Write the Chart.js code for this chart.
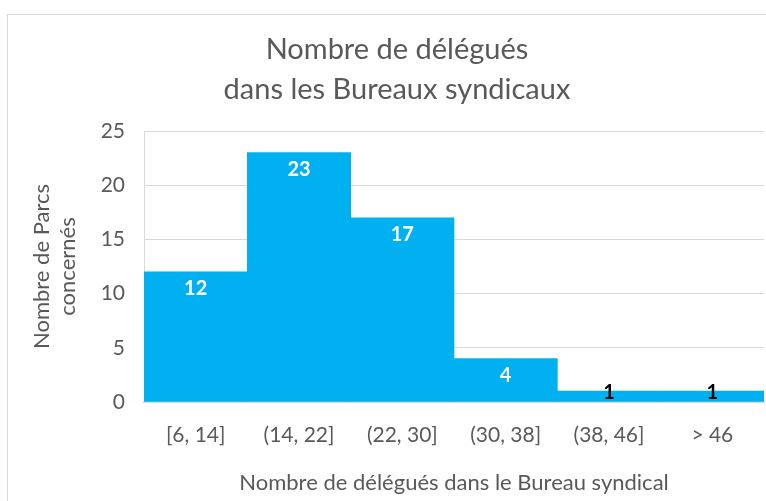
<!DOCTYPE html>
<html>
<head>
<meta charset="utf-8">
<script src="https://cdn.jsdelivr.net/npm/chart.js@4.4.0/dist/chart.umd.min.js"></script>
<style>
  html, body { margin: 0; padding: 0; background: #fff; overflow: hidden; }
  #frame { position: absolute; left: 7px; top: 14px; width: 2000px; height: 2000px; border: 1px solid #D9D9D9; }
  #wrap { position: absolute; left: 0; top: 0; width: 766px; height: 501px; }
</style>
</head>
<body>
<div id="frame"></div>
<div id="wrap"><canvas id="chart" width="766" height="501"></canvas></div>
<script>
// data
const categories = ['[6, 14]', '(14, 22]', '(22, 30]', '(30, 38]', '(38, 46]', '> 46'];
const counts = [12, 23, 17, 4, 1, 1];
const yTicks = [0, 5, 10, 15, 20, 25];

const grey = '#595959';
const FONT = 'Lato, "Open Sans", sans-serif';

// value labels inside the top of each bar (black when the bar is too thin)
const barLabels = {
  id: 'barLabels',
  afterDatasetsDraw(chart) {
    const ctx = chart.ctx;
    const meta = chart.getDatasetMeta(0);
    ctx.save();
    ctx.font = 'bold 20px ' + FONT;
    ctx.textAlign = 'center';
    ctx.textBaseline = 'middle';
    meta.data.forEach((bar, i) => {
      const h = bar.base - bar.y;
      ctx.fillStyle = h < 25 ? '#000' : '#fff';
      const y = Math.min(bar.y + 17, bar.base - 9);
      ctx.fillText(String(counts[i]), bar.x, y);
    });
    ctx.restore();
  }
};

new Chart(document.getElementById('chart'), {
  type: 'bar',
  data: {
    labels: categories,
    datasets: [{
      data: counts,
      backgroundColor: '#00B0F0',
      borderWidth: 0,
      categoryPercentage: 1.0,
      barPercentage: 1.0
    }]
  },
  options: {
    responsive: false,
    animation: false,
    devicePixelRatio: 1,
    layout: { padding: { left: 30, right: 2, top: 0, bottom: 0 } },
    plugins: {
      legend: { display: false },
      tooltip: { enabled: false },
      title: {
        display: true,
        text: ['Nombre de délégués', 'dans les Bureaux syndicaux'],
        color: grey,
        font: { family: FONT, size: 29, weight: 'normal', lineHeight: 40 / 29 },
        padding: { top: 30, bottom: 21 }
      }
    },
    scales: {
      x: {
        grid: { display: false, drawTicks: false },
        border: { display: true, color: '#D9D9D9', width: 2 },
        ticks: { color: grey, font: { family: FONT, size: 21 }, padding: 21, maxRotation: 0 },
        title: {
          display: true,
          text: 'Nombre de délégués dans le Bureau syndical',
          color: grey,
          font: { family: FONT, size: 22, lineHeight: 1.2 },
          padding: { top: 0, bottom: 5 }
        },
        afterFit(s) { s.height = 99; }
      },
      y: {
        min: 0,
        max: 25,
        afterBuildTicks(s) { s.ticks = yTicks.map(v => ({ value: v })); },
        grid: { color: '#D9D9D9', lineWidth: 1, drawTicks: false },
        border: { display: true, color: '#D9D9D9', width: 1 },
        ticks: { color: grey, font: { family: FONT, size: 21 }, padding: 19 },
        title: {
          display: true,
          text: ['Nombre de Parcs', 'concernés'],
          color: grey,
          font: { family: FONT, size: 22, lineHeight: 26 / 22 },
          padding: { top: -1, bottom: 0 }
        },
        afterFit(s) { s.width = 114; }
      }
    }
  },
  plugins: [barLabels]
});
</script>
</body>
</html>
